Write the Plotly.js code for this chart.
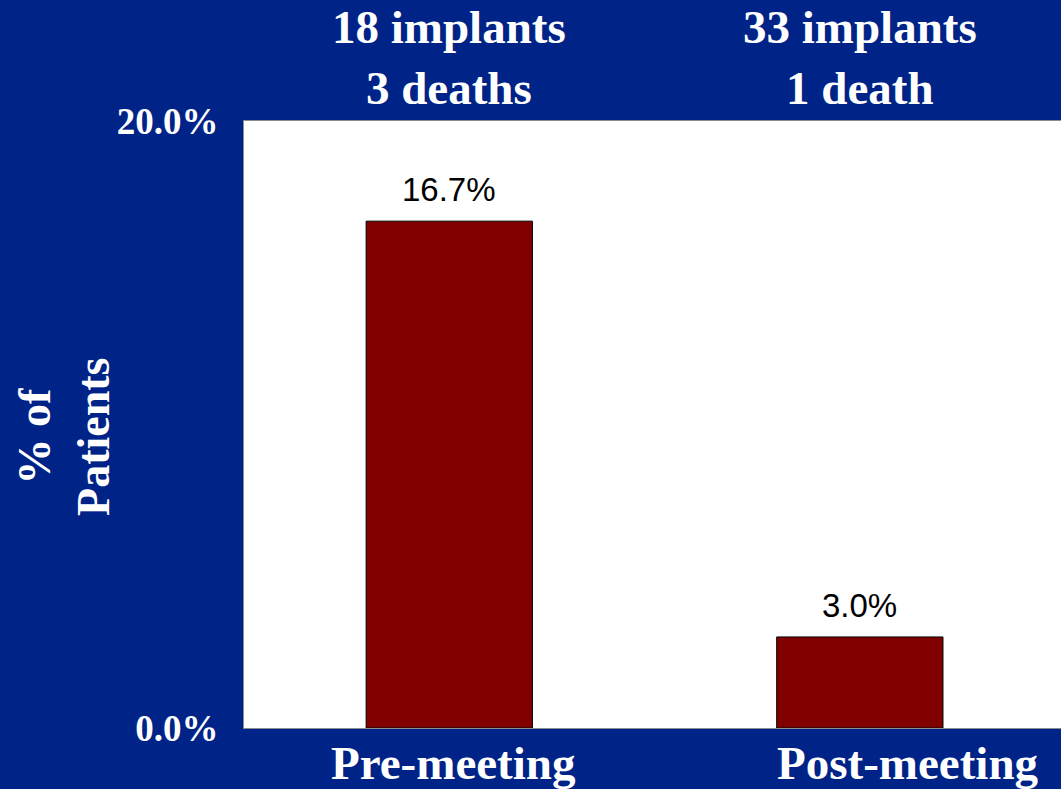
<!DOCTYPE html>
<html>
<head>
<meta charset="utf-8">
<script src="https://cdn.plot.ly/plotly-3.0.1.min.js"></script>
<style>
  html, body { margin: 0; padding: 0; background: #002387; overflow: hidden; }
  #chart { width: 1061px; height: 789px; }
</style>
</head>
<body>
<div id="chart"></div>
<script>
// Share of implant patients who died, before and after the meeting
const periods = ['Pre-meeting', 'Post-meeting'];
const deathRates = [16.7, 3.0];
const headerLines = ['18 implants<br>3 deaths', '33 implants<br>1 death'];
const yTickVals = [0, 20];
const yTickText = ['0.0%', '20.0%'];
const labelShifts = [4, 48];

const serif = 'Liberation Serif, Times New Roman, serif';
const navy = '#002387';

const bars = {
  type: 'bar',
  x: periods,
  y: deathRates,
  width: 0.405,
  marker: { color: '#800000', line: { color: '#000000', width: 1 } },
  hoverinfo: 'skip'
};

const annotations = [];
periods.forEach((p, i) => {
  // value label above each bar
  annotations.push({
    x: p, y: deathRates[i], xref: 'x', yref: 'y',
    text: deathRates[i].toFixed(1) + '%',
    showarrow: false, yanchor: 'bottom', yshift: 11,
    font: { family: 'Liberation Sans, Arial, sans-serif', size: 33, color: '#000000' }
  });
  // counts above the plot
  annotations.push({
    x: p, y: 1.104, xref: 'x', yref: 'paper',
    text: '<b>' + headerLines[i] + '</b>',
    showarrow: false, yanchor: 'middle',
    font: { family: serif, size: 47, color: '#ffffff' }
  });
  // category label below the plot
  annotations.push({
    x: p, y: -0.058, xref: 'x', yref: 'paper',
    text: '<b>' + p + '</b>', xshift: labelShifts[i],
    showarrow: false, yanchor: 'middle',
    font: { family: serif, size: 47, color: '#ffffff' }
  });
});

// y axis title
annotations.push({
  x: -0.22, y: 0.48, xref: 'paper', yref: 'paper',
  text: '<b>% of<br>Patients</b>', textangle: -90,
  showarrow: false, xanchor: 'center', yanchor: 'middle',
  font: { family: serif, size: 46, color: '#ffffff' }
});

const layout = {
  width: 1061, height: 789,
  margin: { l: 244, r: 0, t: 121, b: 61, pad: 0 },
  paper_bgcolor: navy,
  plot_bgcolor: '#ffffff',
  showlegend: false,
  xaxis: {
    type: 'category', range: [-0.5, 1.49],
    showticklabels: false, ticks: '', showgrid: false, zeroline: false,
    showline: true, linecolor: '#8c8c8c', linewidth: 1, mirror: true
  },
  yaxis: {
    range: [0, 20], tickvals: yTickVals, ticktext: yTickText,
    ticks: '', ticklabelstandoff: 17, showgrid: false, zeroline: false,
    showline: true, linecolor: '#8c8c8c', linewidth: 1, mirror: true,
    tickfont: { family: serif, size: 37, color: '#ffffff', weight: 'bold' }
  },
  annotations: annotations
};

Plotly.newPlot('chart', [bars], layout, { displayModeBar: false, staticPlot: true });
</script>
</body>
</html>
